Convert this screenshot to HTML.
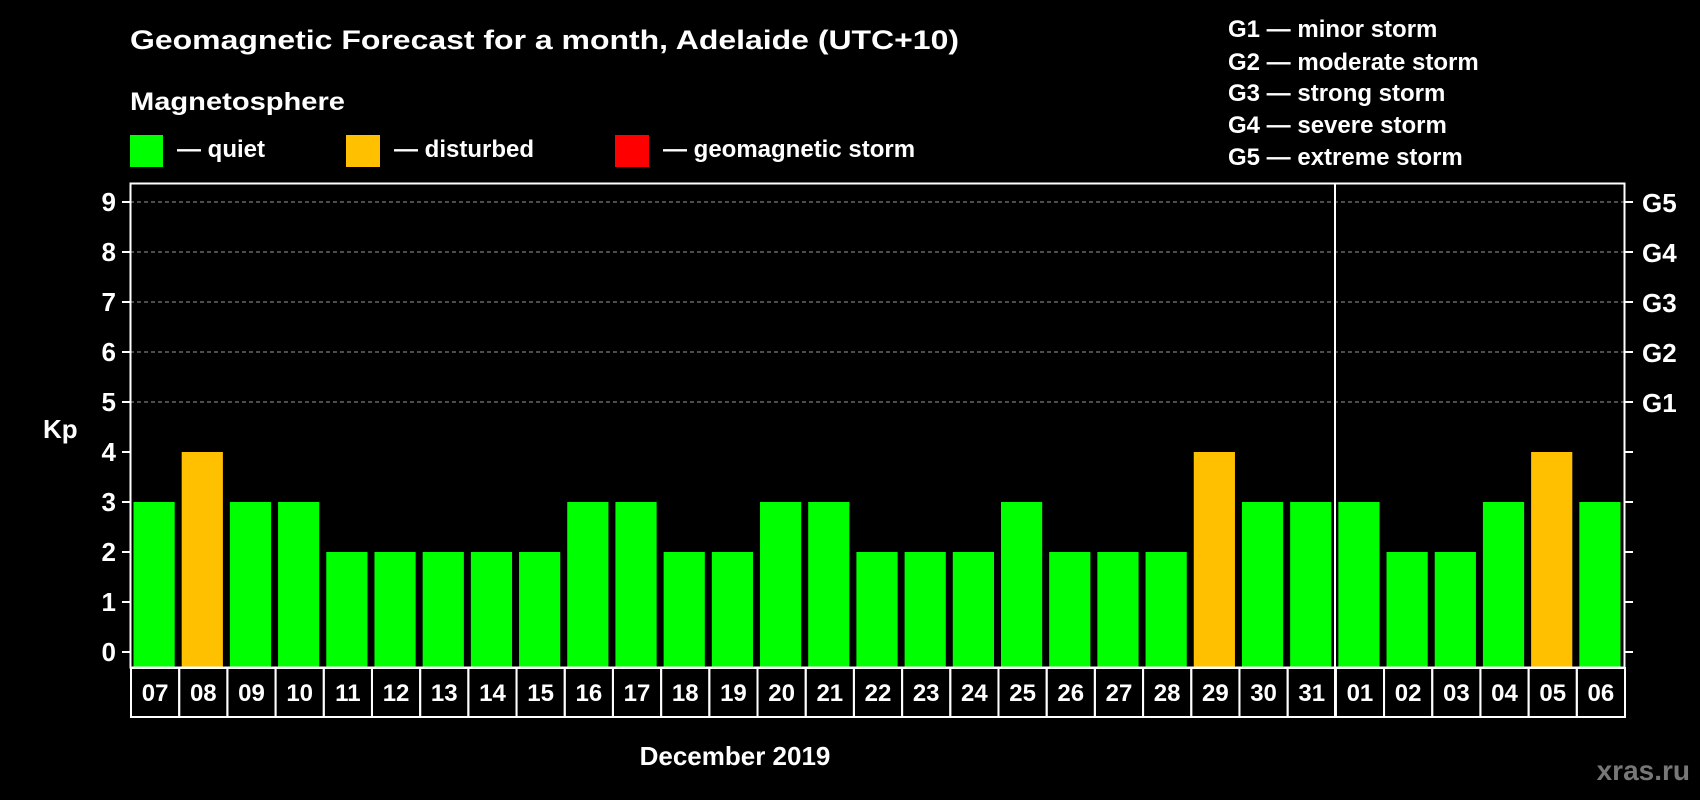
<!DOCTYPE html>
<html><head><meta charset="utf-8"><style>
html,body{margin:0;padding:0;background:#000;}
svg{display:block;font-family:"Liberation Sans",sans-serif;font-weight:bold;}
</style></head><body>
<svg id="chart" width="1700" height="800" viewBox="0 0 1700 800" xmlns="http://www.w3.org/2000/svg">
<rect x="0" y="0" width="1700" height="800" fill="#000"/>
<text x="130" y="49" fill="#fff" font-size="27" textLength="829" lengthAdjust="spacingAndGlyphs">Geomagnetic Forecast for a month, Adelaide (UTC+10)</text>
<text x="130" y="110" fill="#fff" font-size="25" textLength="215" lengthAdjust="spacingAndGlyphs">Magnetosphere</text>
<g>
<rect x="130" y="135" width="33" height="32" fill="#00ff00"/>
<text x="177" y="157" fill="#fff" font-size="24">— quiet</text></g>
<g>
<rect x="346" y="135" width="34" height="32" fill="#ffc000"/>
<text x="394" y="157" fill="#fff" font-size="24">— disturbed</text></g>
<g>
<rect x="615" y="135" width="34" height="32" fill="#ff0000"/>
<text x="663" y="157" fill="#fff" font-size="24">— geomagnetic storm</text></g>
<g fill="#fff" font-size="24">
<text x="1228" y="37">G1 — minor storm</text>
<text x="1228" y="70">G2 — moderate storm</text>
<text x="1228" y="101">G3 — strong storm</text>
<text x="1228" y="133">G4 — severe storm</text>
<text x="1228" y="165">G5 — extreme storm</text>
</g>
<g id="grid"></g>
<g id="bars"></g>
<rect x="130.5" y="183.5" width="1494" height="484" fill="none" stroke="#fff" stroke-width="2"/>
<line x1="1335" y1="183" x2="1335" y2="717" stroke="#fff" stroke-width="2"/>
<g id="axes"></g>
<text x="43" y="438" fill="#fff" font-size="26">Kp</text>
<text x="735" y="765" fill="#fff" font-size="26" text-anchor="middle">December 2019</text>
<text x="1690" y="780" fill="#777" font-size="28" text-anchor="end">xras.ru</text>
</svg>
<script>
const days = ["07","08","09","10","11","12","13","14","15","16","17","18","19","20","21","22","23","24","25","26","27","28","29","30","31","01","02","03","04","05","06"];
const kpValues = [3,4,3,3,2,2,2,2,2,3,3,2,2,3,3,2,2,2,3,2,2,2,4,3,3,3,2,2,3,4,3];
const yTicks = [0,1,2,3,4,5,6,7,8,9];
const stormLabels = {5:"G1",6:"G2",7:"G3",8:"G4",9:"G5"};
const NS="http://www.w3.org/2000/svg";
const L=130,R=1624,T=183,B=668,ROWB=717;
const slot=(R-L)/days.length;
const xPos=i=>L+i*slot;
const yPos=v=>652-50*v;
function mk(tag,attrs,parent){const e=document.createElementNS(NS,tag);for(const k in attrs)e.setAttribute(k,attrs[k]);parent.appendChild(e);return e;}
const grid=document.getElementById('grid'),bars=document.getElementById('bars'),axes=document.getElementById('axes');
yTicks.forEach(v=>{
  const y=yPos(v);
  if(v>=5){const g=mk('line',{x1:L,x2:R,y1:y,y2:y,stroke:'#999','stroke-width':1,'stroke-dasharray':'4,3'},grid);
  
  }
  const t1=mk('line',{x1:L-8,x2:L,y1:y,y2:y,stroke:'#fff','stroke-width':2},axes);
  
  
  const t2=mk('line',{x1:R,x2:R+9,y1:y,y2:y,stroke:'#fff','stroke-width':2},axes);
  
  
  const lb=mk('text',{x:116,y:y+9,fill:'#fff','font-size':26,'text-anchor':'end'},axes);
  lb.textContent=v;
  
  
  if(stormLabels[v]){const s=mk('text',{x:1642,y:y+10,fill:'#fff','font-size':26},axes);
  s.textContent=stormLabels[v];
  
  }
});
days.forEach((d,i)=>{
  const v=kpValues[i];
  const col=v>=5?'#ff0000':(v>=4?'#ffc000':'#00ff00');
  const b=mk('rect',{x:xPos(i)+3.5,y:yPos(v),width:slot-7,height:B-yPos(v),fill:col},bars);
  
  
  const c=mk('rect',{x:xPos(i)+1,y:B,width:slot,height:ROWB-B,fill:'none',stroke:'#fff','stroke-width':2},axes);
  
  
  const t=mk('text',{x:xPos(i)+slot/2+1,y:701,fill:'#fff','font-size':24,'text-anchor':'middle'},axes);
  t.textContent=d;
  
  
});
</script>
</body></html>
